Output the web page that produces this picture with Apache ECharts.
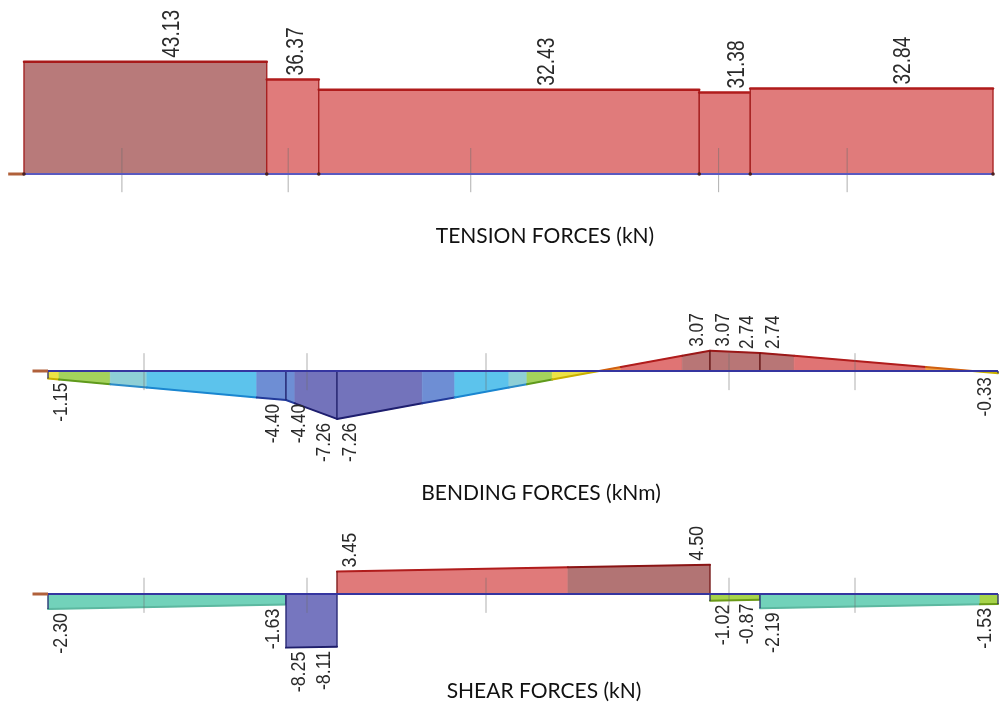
<!DOCTYPE html>
<html><head><meta charset="utf-8">
<script src="https://cdn.jsdelivr.net/npm/echarts@6/dist/echarts.min.js"></script>
<style>html,body{margin:0;padding:0;background:#fff}#c{width:1002px;height:706px}</style>
</head><body><div id="c"></div>
<script>
// ---------------- data ----------------
const nodes = [0, 2.38, 2.89, 6.62, 7.12, 9.5];          // beam node positions
const gridTicks = [0.96, 2.59, 4.38, 6.81, 8.07];        // structural grid lines
const tensionValues = [43.13, 36.37, 32.43, 31.38, 32.84];
const bendingStart = [-1.15, -4.40, -7.26, 3.07, 2.74];
const bendingEnd = [-4.40, -7.26, 3.07, 2.74, -0.33];
const shearStart = [-2.30, -8.25, 3.45, -1.02, -2.19];
const shearEnd = [-1.63, -8.11, 4.50, -0.87, -1.53];
const titles = ['TENSION FORCES (kN)', 'BENDING FORCES (kNm)', 'SHEAR FORCES (kN)'];

// ---------------- style / layout ----------------
const LABEL_FONT = "'Liberation Sans',Arial,sans-serif";
const TITLE_FONT = "21px Lato, 'Open Sans', sans-serif";
const I = Infinity;
function B(lo, hi, fill, edge) { return { lo, hi, fill, edge }; }
const panels = [
  {
    grid: { left: 24, top: 18, width: 969, height: 182 }, y: [-10, 60],
    bands: [B(-I, 40, '#e07b7b', '#b01c1c'), B(40, I, '#b87a7a', '#a81a1a')],
    edgeWidth: 2.5, labelSize: 24, labelScale: 0.8, baseColor: '#5a5ac0', tick: [-7, 10],
    labelMode: 'segment', labelFrac: [0.61, 0.56, 0.60, 0.74, 0.63],
    posEdge: '#a01818', negEdge: '#a01818', dots: true
  },
  {
    grid: { left: 48, top: 305, width: 950, height: 145.2 }, y: [-12, 10],
    bands: [
      B(-I, -4.9, '#7373bb', '#1e1e6e'), B(-4.9, -4.0, '#6e8ed4', '#223a9a'),
      B(-4.0, -2.5, '#5cc3ec', '#1a86d0'), B(-2.5, -2.0, '#8ecfd6', '#2a8ac8'),
      B(-2.0, -1.3, '#a4d25c', '#5f9a1c'), B(-1.3, 0, '#ece346', '#c8b000'),
      B(0, 0.6, '#f0a04a', '#d06010'), B(0.6, 2.3, '#e07474', '#b01c1c'),
      B(2.3, I, '#b87676', '#9a1818')
    ],
    edgeWidth: 2, labelSize: 20, labelScale: 0.86, baseColor: '#3535a0', tick: [-2.9, 2.7],
    labelMode: 'ends', posEdge: '#601010', negEdge: '#1e1e6a'
  },
  {
    grid: { left: 48, top: 529, width: 950, height: 143 }, y: [-12, 10],
    bands: [
      B(-I, -4, '#7676bf', '#1e1e6a'), B(-4, -1.58, '#72d2ba', '#5cb8a0'),
      B(-1.58, 0, '#a6d34a', '#6a9a18'), B(0, 4.1, '#e07a7a', '#b01c1c'),
      B(4.1, I, '#b27474', '#8a1414')
    ],
    edgeWidth: 2, labelSize: 21, labelScale: 0.85, baseColor: '#3535a0', tick: [-2.9, 2.5],
    labelMode: 'ends', posEdge: '#701010', negEdge: '#1e1e6a'
  }
];
const seriesData = [
  nodes.slice(0, -1).map((x, i) => [x, nodes[i + 1], tensionValues[i], tensionValues[i]]),
  nodes.slice(0, -1).map((x, i) => [x, nodes[i + 1], bendingStart[i], bendingEnd[i]]),
  nodes.slice(0, -1).map((x, i) => [x, nodes[i + 1], shearStart[i], shearEnd[i]])
];

function bandOf(bands, v) {
  for (const b of bands) if (v >= b.lo && v < b.hi) return b;
  return bands[bands.length - 1];
}
function rotText(x, y, text, align, p) {
  return { type: 'text', x, y, rotation: Math.PI / 2, scaleX: p.labelScale,
    style: { text, fill: '#2a2a2a', fontSize: p.labelSize, fontFamily: LABEL_FONT, align, verticalAlign: 'middle' } };
}

function segRender(p) {
  return function (params, api) {
    const x0 = api.value(0), x1 = api.value(1), v0 = api.value(2), v1 = api.value(3);
    const cuts = [0, 1];
    p.bands.forEach(b => [b.lo, b.hi].forEach(th => {
      if (isFinite(th) && (th - v0) * (th - v1) < 0) cuts.push((th - v0) / (v1 - v0));
    }));
    cuts.sort((a, b) => a - b);
    const fills = [], edges = [], labels = [];
    for (let k = 0; k < cuts.length - 1; k++) {
      const ta = cuts[k], tb = cuts[k + 1];
      if (tb - ta < 1e-9) continue;
      const xa = x0 + (x1 - x0) * ta, xb = x0 + (x1 - x0) * tb;
      const va = v0 + (v1 - v0) * ta, vb = v0 + (v1 - v0) * tb;
      const band = bandOf(p.bands, (va + vb) / 2);
      const pts = [api.coord([xa, 0]), api.coord([xa, va]), api.coord([xb, vb]), api.coord([xb, 0])];
      fills.push({ type: 'polygon', shape: { points: pts }, style: { fill: band.fill, stroke: band.fill, lineWidth: 0.6 } });
      edges.push({ type: 'line', shape: { x1: pts[1][0], y1: pts[1][1], x2: pts[2][0], y2: pts[2][1] },
        style: { stroke: band.edge, lineWidth: p.edgeWidth, lineCap: 'round' } });
    }
    [[x0, v0], [x1, v1]].forEach(([x, v]) => {
      const a = api.coord([x, 0]), b = api.coord([x, v]);
      edges.push({ type: 'line', shape: { x1: a[0], y1: a[1], x2: b[0], y2: b[1] },
        style: { stroke: v >= 0 ? p.posEdge : p.negEdge, lineWidth: 1.2 } });
    });
    const gap = 4;
    if (p.labelMode === 'segment') {
      const xm = x0 + (x1 - x0) * p.labelFrac[params.dataIndex];
      const c = api.coord([xm, v0]);
      labels.push(rotText(c[0], c[1] - gap, v0.toFixed(2), 'left', p));
    } else {
      const dx = 13;
      const a = api.coord([x0, v0]), b = api.coord([x1, v1]);
      labels.push(v0 >= 0 ? rotText(a[0] + dx, a[1] - gap, v0.toFixed(2), 'left', p)
                          : rotText(a[0] + dx, a[1] + gap, v0.toFixed(2), 'right', p));
      labels.push(v1 >= 0 ? rotText(b[0] - dx, b[1] - gap, v1.toFixed(2), 'left', p)
                          : rotText(b[0] - dx, b[1] + gap, v1.toFixed(2), 'right', p));
    }
    return { type: 'group', children: fills.concat(edges, labels) };
  };
}

function frameRender(p) {
  return function (params, api) {
    const ch = [];
    gridTicks.forEach(t => {
      const a = api.coord([t, p.tick[0]]), b = api.coord([t, p.tick[1]]);
      ch.push({ type: 'line', shape: { x1: a[0], y1: a[1], x2: b[0], y2: b[1] },
        style: { stroke: 'rgba(110,110,110,0.55)', lineWidth: 1 } });
    });
    const s = api.coord([nodes[0], 0]), e = api.coord([nodes[nodes.length - 1], 0]);
    ch.push({ type: 'line', shape: { x1: s[0], y1: s[1], x2: e[0], y2: e[1] },
      style: { stroke: p.baseColor, lineWidth: 2 } });
    const tip = api.coord([nodes[0] - 0.155, 0]);
    ch.push({ type: 'line', shape: { x1: tip[0], y1: tip[1], x2: s[0], y2: s[1] },
      style: { stroke: '#b0603a', lineWidth: 3 } });
    if (p.dots) nodes.forEach(n => {
      const c = api.coord([n, 0]);
      ch.push({ type: 'circle', shape: { cx: c[0], cy: c[1], r: 1.8 }, style: { fill: '#4a2020' } });
    });
    return { type: 'group', children: ch };
  };
}

const option = {
  animation: false,
  grid: panels.map(p => Object.assign({ containLabel: false }, p.grid)),
  xAxis: panels.map((p, i) => ({ gridIndex: i, type: 'value', min: nodes[0], max: nodes[nodes.length - 1], show: false })),
  yAxis: panels.map((p, i) => ({ gridIndex: i, type: 'value', min: p.y[0], max: p.y[1], show: false })),
  series: [],
  graphic: [
    { type: 'text', x: 545, y: 236, style: { text: titles[0], fill: '#111', font: TITLE_FONT, align: 'center', verticalAlign: 'middle' } },
    { type: 'text', x: 541, y: 493, style: { text: titles[1], fill: '#111', font: TITLE_FONT, align: 'center', verticalAlign: 'middle' } },
    { type: 'text', x: 544, y: 691, style: { text: titles[2], fill: '#111', font: TITLE_FONT, align: 'center', verticalAlign: 'middle' } }
  ]
};
panels.forEach((p, i) => {
  option.series.push({ type: 'custom', xAxisIndex: i, yAxisIndex: i, data: seriesData[i], renderItem: segRender(p), z: 2 });
  option.series.push({ type: 'custom', xAxisIndex: i, yAxisIndex: i, data: [[0]], renderItem: frameRender(p), z: 3 });
});
const chart = echarts.init(document.getElementById('c'), null, { renderer: 'canvas' });
chart.setOption(option);
</script></body></html>
